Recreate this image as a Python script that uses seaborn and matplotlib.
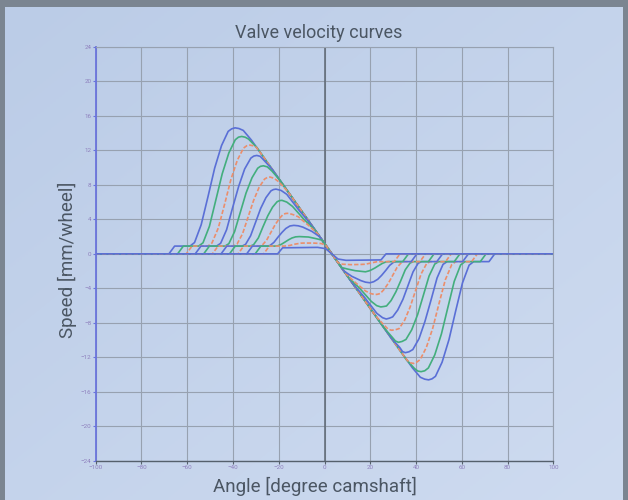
import matplotlib
matplotlib.use("Agg")
import matplotlib.pyplot as plt
import matplotlib.colors as mcolors
import numpy as np
import pandas as pd
import seaborn as sns

# speed [mm/wheel] against angle [degree camshaft], largest lift first
curve_01 = [(-100, 0), (-68, 0), (-65.5, 0.9), (-58.8, 0.9), (-56.8, 1.31), (-53.9, 3.37), (-50.9, 6.65),
            (-48.0, 9.94), (-45.0, 12.55), (-42.1, 14.19), (-40.6, 14.48), (-39.1, 14.6), (-37.4, 14.52),
            (-35.5, 14.3), (-32, 13.2), (3.2, 0), (38.4, -13.2), (41.9, -14.3), (43.8, -14.52), (45.5, -14.6),
            (47.0, -14.48), (48.5, -14.19), (51.4, -12.55), (54.4, -9.94), (57.3, -6.65), (60.3, -3.37),
            (63.2, -1.31), (65.2, -0.9), (71.9, -0.9), (74.4, 0), (100, 0)]
curve_02 = [(-100, 0), (-64.2, 0), (-61.7, 0.9), (-55, 0.9), (-53.1, 1.28), (-50.3, 3.19), (-47.5, 6.23),
            (-44.7, 9.28), (-41.8, 11.7), (-39.0, 13.22), (-37.6, 13.52), (-36.2, 13.6), (-34.7, 13.52),
            (-33.2, 13.3), (-29.5, 12.3), (3.2, 0), (35.9, -12.3), (39.4, -13.3), (40.8, -13.58), (42.2, -13.65),
            (43.8, -13.55), (45.4, -13.22), (48.2, -11.7), (51.1, -9.28), (53.9, -6.23), (56.7, -3.19),
            (59.5, -1.28), (61.4, -0.9), (68.1, -0.9), (70.6, 0), (100, 0)]
curve_03 = [(-100, 0), (-60.4, 0), (-57.9, 0.9), (-51, 0.9), (-49.2, 1.25), (-46.4, 3.01), (-43.6, 5.81),
            (-40.9, 8.62), (-38.1, 10.85), (-35.4, 12.25), (-34.0, 12.52), (-32.6, 12.6), (-31.2, 12.52),
            (-29.8, 12.35), (-26.5, 11.17), (3.2, 0), (32.9, -11.17), (36.2, -12.35), (37.6, -12.62), (38.9, -12.7),
            (40.3, -12.55), (41.8, -12.25), (44.5, -10.85), (47.3, -8.62), (50.0, -5.81), (52.8, -3.01),
            (55.6, -1.25), (57.4, -0.9), (64.3, -0.9), (66.8, 0), (100, 0)]
curve_04 = [(-100, 0), (-56.5, 0), (-54, 0.9), (-47.2, 0.9), (-45.4, 1.22), (-42.8, 2.79), (-40.2, 5.31),
            (-37.5, 7.83), (-34.9, 9.83), (-32.2, 11.09), (-30.9, 11.33), (-29.6, 11.4), (-28.1, 11.3),
            (-26.5, 10.85), (-23, 9.85), (3.2, 0), (29.4, -9.85), (32.9, -10.85), (34.1, -11.32), (35.3, -11.45),
            (36.9, -11.35), (38.6, -11.09), (41.3, -9.83), (43.9, -7.83), (46.6, -5.31), (49.2, -2.79),
            (51.8, -1.22), (53.6, -0.9), (60.4, -0.9), (62.9, 0), (100, 0)]
curve_05 = [(-100, 0), (-52.8, 0), (-50.3, 0.9), (-43.5, 0.9), (-41.8, 1.18), (-39.3, 2.57), (-36.8, 4.81),
            (-34.3, 7.04), (-31.7, 8.81), (-29.2, 9.92), (-28.0, 10.14), (-26.7, 10.2), (-25.0, 10.08),
            (-23, 9.6), (-19.5, 8.54), (3.2, 0), (25.9, -8.54), (29.4, -9.6), (31.0, -10.1), (32.3, -10.25),
            (33.9, -10.15), (35.6, -9.92), (38.1, -8.81), (40.7, -7.04), (43.2, -4.81), (45.7, -2.57),
            (48.2, -1.18), (49.9, -0.9), (56.7, -0.9), (59.2, 0), (100, 0)]
curve_06 = [(-100, 0), (-49, 0), (-46.5, 0.9), (-39.8, 0.9), (-38.2, 1.14), (-35.8, 2.34), (-33.4, 4.26),
            (-31.0, 6.18), (-28.6, 7.7), (-26.2, 8.66), (-25.0, 8.85), (-23.8, 8.9), (-22.0, 8.75),
            (-20, 8.35), (-16, 7.22), (3.2, 0), (22.4, -7.22), (26.4, -8.35), (27.9, -8.75), (29.3, -8.85),
            (30.9, -8.8), (32.6, -8.66), (35.0, -7.7), (37.4, -6.18), (39.8, -4.26), (42.2, -2.34),
            (44.6, -1.14), (46.2, -0.9), (52.9, -0.9), (55.4, 0), (100, 0)]
curve_07 = [(-100, 0), (-45.2, 0), (-42.7, 0.9), (-36, 0.9), (-34.5, 1.10), (-32.3, 2.09), (-30.1, 3.67),
            (-27.9, 5.26), (-25.6, 6.51), (-23.4, 7.30), (-22.3, 7.45), (-21.2, 7.5), (-19.0, 7.35),
            (-16.5, 6.9), (-11, 5.0), (-6, 3.46), (3.2, 0), (12.4, -3.46), (17.4, -5.0), (22.9, -6.9),
            (25.4, -7.4), (27, -7.55), (28.4, -7.45), (29.8, -7.30), (32.0, -6.51), (34.3, -5.26),
            (36.5, -3.67), (38.7, -2.09), (40.9, -1.10), (42.4, -0.9), (49.1, -0.9), (51.6, 0), (100, 0)]
curve_08 = [(-100, 0), (-41.5, 0), (-39, 0.9), (-32.4, 0.9), (-31.0, 1.06), (-28.9, 1.85), (-26.9, 3.13),
            (-24.8, 4.40), (-22.7, 5.41), (-20.7, 6.04), (-19.6, 6.17), (-18.6, 6.2), (-16.5, 6.0),
            (-14, 5.5), (-9, 4.0), (-4, 2.71), (3.2, 0), (10.4, -2.71), (15.4, -4.0), (20.4, -5.5),
            (22.8, -6.0), (24.6, -6.15), (25.9, -6.1), (27.1, -6.04), (29.1, -5.41), (31.2, -4.40),
            (33.3, -3.13), (35.3, -1.85), (37.4, -1.06), (38.8, -0.9), (45.4, -0.9), (47.9, 0), (100, 0)]
curve_09 = [(-100, 0), (-37.8, 0), (-35.3, 0.9), (-28.5, 0.9), (-27.2, 1.01), (-25.3, 1.58), (-23.4, 2.50),
            (-21.5, 3.41), (-19.6, 4.13), (-18.0, 4.59), (-16.9, 4.68), (-15.8, 4.7), (-13.8, 4.55),
            (-11.5, 4.3), (-7, 3.3), (-3, 2.33), (3.2, 0), (9.4, -2.33), (13.4, -3.3), (17.9, -4.3),
            (20.2, -4.6), (22.1, -4.72), (23.2, -4.68), (24.4, -4.59), (26.0, -4.13), (27.9, -3.41),
            (29.8, -2.50), (31.7, -1.58), (33.6, -1.01), (34.9, -0.9), (41.7, -0.9), (44.2, 0), (100, 0)]
curve_10 = [(-100, 0), (-34, 0), (-31.5, 0.9), (-25, 0.9), (-23.8, 0.97), (-22.1, 1.33), (-20.4, 1.91),
            (-18.6, 2.48), (-16.9, 2.94), (-15.1, 3.23), (-13.4, 3.3), (-11.5, 3.25), (-9.5, 3.1),
            (-5.5, 2.6), (-2, 1.96), (3.2, 0), (8.4, -1.96), (11.9, -2.6), (15.9, -3.1), (17.9, -3.28),
            (19.85, -3.35), (21.5, -3.23), (23.3, -2.94), (25.0, -2.48), (26.8, -1.91), (28.5, -1.33),
            (30.2, -0.97), (31.4, -0.9), (37.9, -0.9), (40.4, 0), (100, 0)]
curve_11 = [(-100, 0), (-30.3, 0), (-27.8, 0.9), (-21.5, 0.9), (-20.5, 0.93), (-18.9, 1.10), (-17.3, 1.36),
            (-15.7, 1.63), (-14.2, 1.84), (-12.6, 1.97), (-11, 2.0), (-7, 1.95), (-3.5, 1.75), (-1, 1.58),
            (3.2, 0), (7.4, -1.58), (9.9, -1.75), (13.4, -1.95), (17.9, -2.08), (19.5, -1.97), (20.6, -1.84),
            (22.1, -1.63), (23.7, -1.36), (25.3, -1.10), (26.9, -0.93), (27.9, -0.9), (34.2, -0.9),
            (36.7, 0), (100, 0)]
curve_12 = [(-100, 0), (-26.6, 0), (-24.1, 0.9), (-17.5, 0.9), (-15.4, 0.96), (-12.8, 1.13), (-10.3, 1.24),
            (-9, 1.25), (-5, 1.25), (-1.5, 1.2), (0.5, 1.02), (3.2, 0), (5.9, -1.02), (7.9, -1.2),
            (11.4, -1.25), (15.8, -1.23), (17.9, -1.20), (20.5, -1.05), (23.0, -0.91), (23.9, -0.9),
            (30.5, -0.9), (33.0, 0), (100, 0)]
curve_13 = [(-100, 0), (-20.5, 0), (-18.3, 0.7), (-3, 0.75), (0.5, 0.6), (3.2, 0), (5.9, -0.6),
            (9.4, -0.75), (24.7, -0.7), (26.9, 0), (100, 0)]

curves = [curve_01, curve_02, curve_03, curve_04, curve_05, curve_06, curve_07,
          curve_08, curve_09, curve_10, curve_11, curve_12, curve_13]
x_ticks = list(range(-100, 101, 20))
y_ticks = list(range(-24, 25, 4))

blue = "#5a6fd6"
green = "#43ae7d"
orange = "#eb8e6c"
cycle = [blue, green, orange]

rows = []
for i, pts in enumerate(curves):
    for a, s in pts:
        rows.append((f"c{i:02d}", a, s))
dt = pd.DataFrame(rows, columns=["curve", "angle", "speed"])
names = list(dict.fromkeys(dt["curve"]))
palette = {n: cycle[i % 3] for i, n in enumerate(names)}
dash_map = {n: ((2.6, 1.2) if i % 3 == 2 else "") for i, n in enumerate(names)}

plt.rcParams['font.family'] = ['Roboto', 'DejaVu Sans']
text_col = "#4b5663"

fig = plt.figure(figsize=(6.28, 5.0), dpi=100, facecolor="#7b8591")

# light blue panel with a soft gradient
bg = fig.add_axes([5 / 628, 0, 618 / 628, 493 / 500], zorder=-5)
gx, gy = np.meshgrid(np.linspace(0, 1, 200), np.linspace(0, 1, 200))
cmap = mcolors.LinearSegmentedColormap.from_list("panel", ["#bbcce7", "#cedbf0"])
bg.imshow(gx * 0.5 + gy * 0.5, cmap=cmap, aspect="auto", extent=[0, 1, 0, 1], origin="upper")
bg.set_axis_off()

ax = fig.add_axes([95.7 / 628, 1 - 461 / 500, 457.6 / 628, 414.3 / 500])
ax.set_facecolor("none")

ax.grid(True, color="#97a1b0", linewidth=0.8)
ax.set_axisbelow(True)
ax.axvline(0, color="#5d6773", linewidth=1.1, zorder=1)

sns.lineplot(data=dt, x="angle", y="speed", hue="curve", style="curve", palette=palette,
             dashes=dash_map, estimator=None, sort=False, legend=False, linewidth=1.2, ax=ax)

ax.set_xlim(-100, 100)
ax.set_ylim(-24, 24)
ax.set_xticks(x_ticks)
ax.set_yticks(y_ticks)
ax.set_xlabel("")
ax.set_ylabel("")
ax.tick_params(axis="both", labelsize=4.5, labelcolor="#8e80bd", length=2, width=0.8, pad=1)
ax.tick_params(axis="y", color="#6a74dc")
ax.tick_params(axis="x", color="#55606c")

for side in ["top", "right"]:
    ax.spines[side].set_color("#97a1b0")
    ax.spines[side].set_linewidth(0.8)
ax.spines["left"].set_color("#6a74dc")
ax.spines["left"].set_linewidth(1.3)
ax.spines["bottom"].set_color("#55606c")
ax.spines["bottom"].set_linewidth(1.0)

fig.text(318.5 / 628, 1 - 33 / 500, "Valve velocity curves", ha="center", va="center",
         fontsize=13, color=text_col)
fig.text(315 / 628, 1 - 486 / 500, "Angle [degree camshaft]", ha="center", va="center",
         fontsize=13.5, color=text_col)
fig.text(67 / 628, 1 - 260 / 500, "Speed [mm/wheel]", ha="center", va="center", rotation=90,
         fontsize=13.5, color=text_col)

fig.savefig("out.png", dpi=100, facecolor=fig.get_facecolor())
